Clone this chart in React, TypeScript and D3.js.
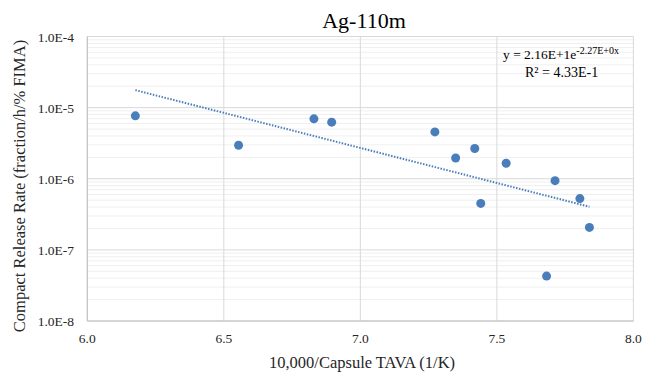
import React from "react";
import * as d3 from "d3";

const xValues = [6.176, 6.554, 6.830, 6.895, 7.273, 7.349, 7.419, 7.441, 7.534, 7.682, 7.713, 7.804, 7.839];
const yValues = [7.67e-6, 2.96e-6, 6.95e-6, 6.25e-6, 4.56e-6, 1.96e-6, 2.66e-6, 4.5e-7, 1.65e-6, 4.28e-8, 9.4e-7, 5.26e-7, 2.07e-7];
const xTicks = [6.0, 6.5, 7.0, 7.5, 8.0];
const yTicks = [1e-4, 1e-5, 1e-6, 1e-7, 1e-8];
const yTickLabels = ["1.0E-4", "1.0E-5", "1.0E-6", "1.0E-7", "1.0E-8"];
const trendA = 21.6;
const trendB = -2.27;

const W = 646, H = 372;
const left = 87.3, right = 633.4, top = 36.5, bottom = 321;
const font = "'Liberation Serif', 'Times New Roman', serif";
const txt = "#262626";

export default function App() {
  const x = d3.scaleLinear().domain([6, 8]).range([left, right]);
  const y = d3.scaleLog().domain([1e-8, 1e-4]).range([bottom, top]);

  const minor: number[] = [];
  for (let e = -8; e < -4; e++) {
    for (let m = 2; m <= 9; m++) minor.push(m * Math.pow(10, e));
  }

  const xMin = d3.min(xValues)!;
  const xMax = d3.max(xValues)!;
  const trendPts = d3.range(0, 101).map((i) => {
    const xv = xMin + ((xMax - xMin) * i) / 100;
    return [xv, trendA * Math.exp(trendB * xv)] as [number, number];
  });
  const line = d3.line<[number, number]>().x((d) => x(d[0])).y((d) => y(d[1]));

  return (
    <svg width={W} height={H} style={{ position: "absolute", left: 0, top: 0, background: "#fff" }} fontFamily={font}>
      {minor.map((v, i) => (
        <line key={"mn" + i} x1={left} x2={right} y1={y(v)} y2={y(v)} stroke="#efefef" strokeWidth={1} />
      ))}
      {yTicks.map((v, i) => (
        <line key={"mj" + i} x1={left} x2={right} y1={y(v)} y2={y(v)} stroke="#d9d9d9" strokeWidth={1} />
      ))}
      {xTicks.map((v, i) => (
        <line key={"vx" + i} x1={x(v)} x2={x(v)} y1={top} y2={bottom} stroke="#d9d9d9" strokeWidth={1} />
      ))}
      <line x1={left} x2={left} y1={top} y2={bottom} stroke="#bfbfbf" strokeWidth={1} />
      <line x1={left} x2={right} y1={bottom} y2={bottom} stroke="#bfbfbf" strokeWidth={1} />

      <path d={line(trendPts) || ""} fill="none" stroke="#4a7ebb" strokeWidth={2} strokeDasharray="1.5 1.5" />

      {xValues.map((xv, i) => (
        <circle key={"p" + i} cx={x(xv)} cy={y(yValues[i])} r={4.5} fill="#4a7ebb" />
      ))}

      {yTicks.map((v, i) => (
        <text key={"yl" + i} x={74} y={y(v) + 5} textAnchor="end" fontSize={13.5} fill={txt}>
          {yTickLabels[i]}
        </text>
      ))}
      {xTicks.map((v, i) => (
        <text key={"xl" + i} x={x(v)} y={343} textAnchor="middle" fontSize={13.5} fill={txt}>
          {v.toFixed(1)}
        </text>
      ))}

      <text x={364} y={28} textAnchor="middle" fontSize={22} fill="#000">Ag-110m</text>
      <text x={362} y={368} textAnchor="middle" fontSize={16.5} fill={txt}>10,000/Capsule TAVA (1/K)</text>
      <text transform={`translate(25,186) rotate(-90)`} textAnchor="middle" fontSize={16.5} fill={txt}>
        Compact Release Rate (fraction/h/% FIMA)
      </text>

      <text x={503} y={59} fontSize={13.5} fill="#000">
        y = 2.16E+1e<tspan dy={-5} fontSize={10}>-2.27E+0x</tspan>
      </text>
      <text x={525} y={77} fontSize={14} fill="#000">
        R² = 4.33E-1
      </text>
    </svg>
  );
}
